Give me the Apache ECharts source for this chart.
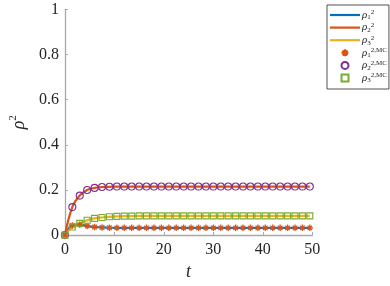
<!DOCTYPE html>
<html>
<head>
<meta charset="utf-8">
<script src="https://cdn.jsdelivr.net/npm/echarts@6/dist/echarts.min.js"></script>
<style>html,body{margin:0;padding:0;background:#fff}#c{width:390px;height:286px}</style>
</head>
<body>
<div id="c"></div>
<script>
// time samples (t)
var tVals = [0,1.5,3,4.5,6,7.5,9,10.5,12,13.5,15,16.5,18,19.5,21,22.5,24,25.5,27,28.5,30,31.5,33,34.5,36,37.5,39,40.5,42,43.5,45,46.5,48,49.5];
// rho_1^2
var rho1 = [0,0.043,0.046,0.040,0.036,0.034,0.033,0.032,0.032,0.032,0.032,0.032,0.032,0.032,0.032,0.032,0.032,0.032,0.032,0.032,0.032,0.032,0.032,0.032,0.032,0.032,0.032,0.032,0.032,0.032,0.032,0.032,0.032,0.032];
// rho_2^2
var rho2 = [0,0.124,0.175,0.200,0.209,0.213,0.214,0.215,0.215,0.215,0.215,0.215,0.215,0.215,0.215,0.215,0.215,0.215,0.215,0.215,0.215,0.215,0.215,0.215,0.215,0.215,0.215,0.215,0.215,0.215,0.215,0.215,0.215,0.215];
// rho_3^2
var rho3 = [0,0.036,0.052,0.066,0.074,0.078,0.081,0.083,0.084,0.084,0.085,0.085,0.085,0.085,0.085,0.085,0.085,0.085,0.085,0.085,0.085,0.085,0.085,0.085,0.085,0.085,0.085,0.085,0.085,0.085,0.085,0.085,0.085,0.085];
// Monte Carlo estimates
var mc1 = rho1.slice();
var mc2 = rho2.slice();
var mc3 = rho3.slice();
var xTicks = [0,10,20,30,40,50];
var yTicks = [0,0.2,0.4,0.6,0.8,1];

function pairs(ys){ return tVals.map(function(t,i){ return [t, ys[i]]; }); }

var serif = 'Liberation Serif';
var axisCol = '#a9a9a9';
var txt = '#262626';
var labels = {
  r1: '{r|ρ}{b|1}{p|2}', r2: '{r|ρ}{b|2}{p|2}', r3: '{r|ρ}{b|3}{p|2}',
  m1: '{r|ρ}{b|1}{p|2,MC}', m2: '{r|ρ}{b|2}{p|2,MC}', m3: '{r|ρ}{b|3}{p|2,MC}'
};
var star = 'path://M0,-1L0,1M-1,0L1,0M-0.7,-0.7L0.7,0.7M-0.7,0.7L0.7,-0.7';
var lineIcon = 'path://M0,0L30,0L30,2.2L0,2.2Z';
var sq = 'path://M0,0L1,0L1,1L0,1Z';

var chart = echarts.init(document.getElementById('c'), null, {renderer:'canvas'});
chart.setOption({
  animation: false,
  backgroundColor: '#fff',
  grid: {left: 53.5, right: 77.7, top: 9.3, bottom: 46.7, containLabel: false},
  xAxis: {
    type: 'value', min: xTicks[0], max: xTicks[xTicks.length-1], interval: 10,
    name: 't', nameLocation: 'middle', nameGap: 27,
    nameTextStyle: {fontFamily: serif, fontStyle: 'italic', fontSize: 18, color: txt},
    axisLine: {show: true, lineStyle: {color: axisCol, width: 1.3}},
    axisTick: {show: true, inside: true, length: 3, lineStyle: {color: axisCol}},
    axisLabel: {fontFamily: serif, fontSize: 16, color: txt, margin: 7},
    splitLine: {show: false}
  },
  yAxis: {
    type: 'value', min: yTicks[0], max: yTicks[yTicks.length-1], interval: 0.2,
    name: '{r|ρ}{p|2}', nameLocation: 'middle', nameGap: 28, nameRotate: 90,
    nameTextStyle: {color: txt, rich: {
      r: {fontFamily: serif, fontStyle: 'italic', fontSize: 18, color: txt, lineHeight: 20, verticalAlign: 'bottom'},
      p: {fontFamily: serif, fontSize: 11, color: txt, lineHeight: 20, verticalAlign: 'top'}
    }},
    axisLine: {show: true, lineStyle: {color: axisCol, width: 1.3}},
    axisTick: {show: true, inside: true, length: 3, lineStyle: {color: axisCol}},
    axisLabel: {fontFamily: serif, fontSize: 16, color: txt, margin: 6},
    splitLine: {show: false}
  },
  legend: {
    orient: 'vertical', left: 327, top: 5,
    backgroundColor: '#fff', borderColor: '#262626', borderWidth: 0.8,
    padding: [4, 2, 5, 3],
    itemWidth: 30, itemHeight: 7, itemGap: 0.6,
    data: [
      {name: 'r1', icon: lineIcon}, {name: 'r2', icon: lineIcon}, {name: 'r3', icon: lineIcon},
      {name: 'm1'}, {name: 'm2'}, {name: 'm3', icon: sq}
    ],
    formatter: function(n){ return labels[n]; },
    textStyle: {color: txt, padding: [0,0,0,-3], rich: {
      r: {fontFamily: serif, fontStyle: 'italic', fontSize: 11, color: txt, lineHeight: 12, verticalAlign: 'middle'},
      b: {fontFamily: serif, fontSize: 7, color: txt, lineHeight: 12, verticalAlign: 'bottom'},
      p: {fontFamily: serif, fontSize: 7, color: txt, lineHeight: 12, verticalAlign: 'top'}
    }}
  },
  series: [
    {name: 'r1', type: 'line', data: pairs(rho1), smooth: 0.4, symbol: 'none', showSymbol: false, z: 2,
     lineStyle: {color: '#0072BD', width: 2.2}, itemStyle: {color: '#0072BD'}},
    {name: 'r2', type: 'line', data: pairs(rho2), smooth: 0.4, symbol: 'none', showSymbol: false, z: 2,
     lineStyle: {color: '#D95319', width: 2.2}, itemStyle: {color: '#D95319'}},
    {name: 'r3', type: 'line', data: pairs(rho3), smooth: 0.4, symbol: 'none', showSymbol: false, z: 2,
     lineStyle: {color: '#EDB120', width: 2.2}, itemStyle: {color: '#EDB120'}},
    {name: 'm1', type: 'scatter', data: pairs(mc1), symbol: star, symbolSize: 6.5, z: 3,
     itemStyle: {color: '#D95319', borderColor: '#D95319', borderWidth: 1.3, opacity: 1}},
    {name: 'm2', type: 'scatter', data: pairs(mc2), symbol: 'circle', symbolSize: 7, z: 3,
     itemStyle: {color: 'rgba(0,0,0,0)', borderColor: '#7E2F8E', borderWidth: 1.1, opacity: 1}},
    {name: 'm3', type: 'scatter', data: pairs(mc3), symbol: sq, symbolSize: 6, z: 3,
     itemStyle: {color: 'rgba(0,0,0,0)', borderColor: '#77AC30', borderWidth: 1.1, opacity: 1}}
  ]
});
</script>
</body>
</html>
